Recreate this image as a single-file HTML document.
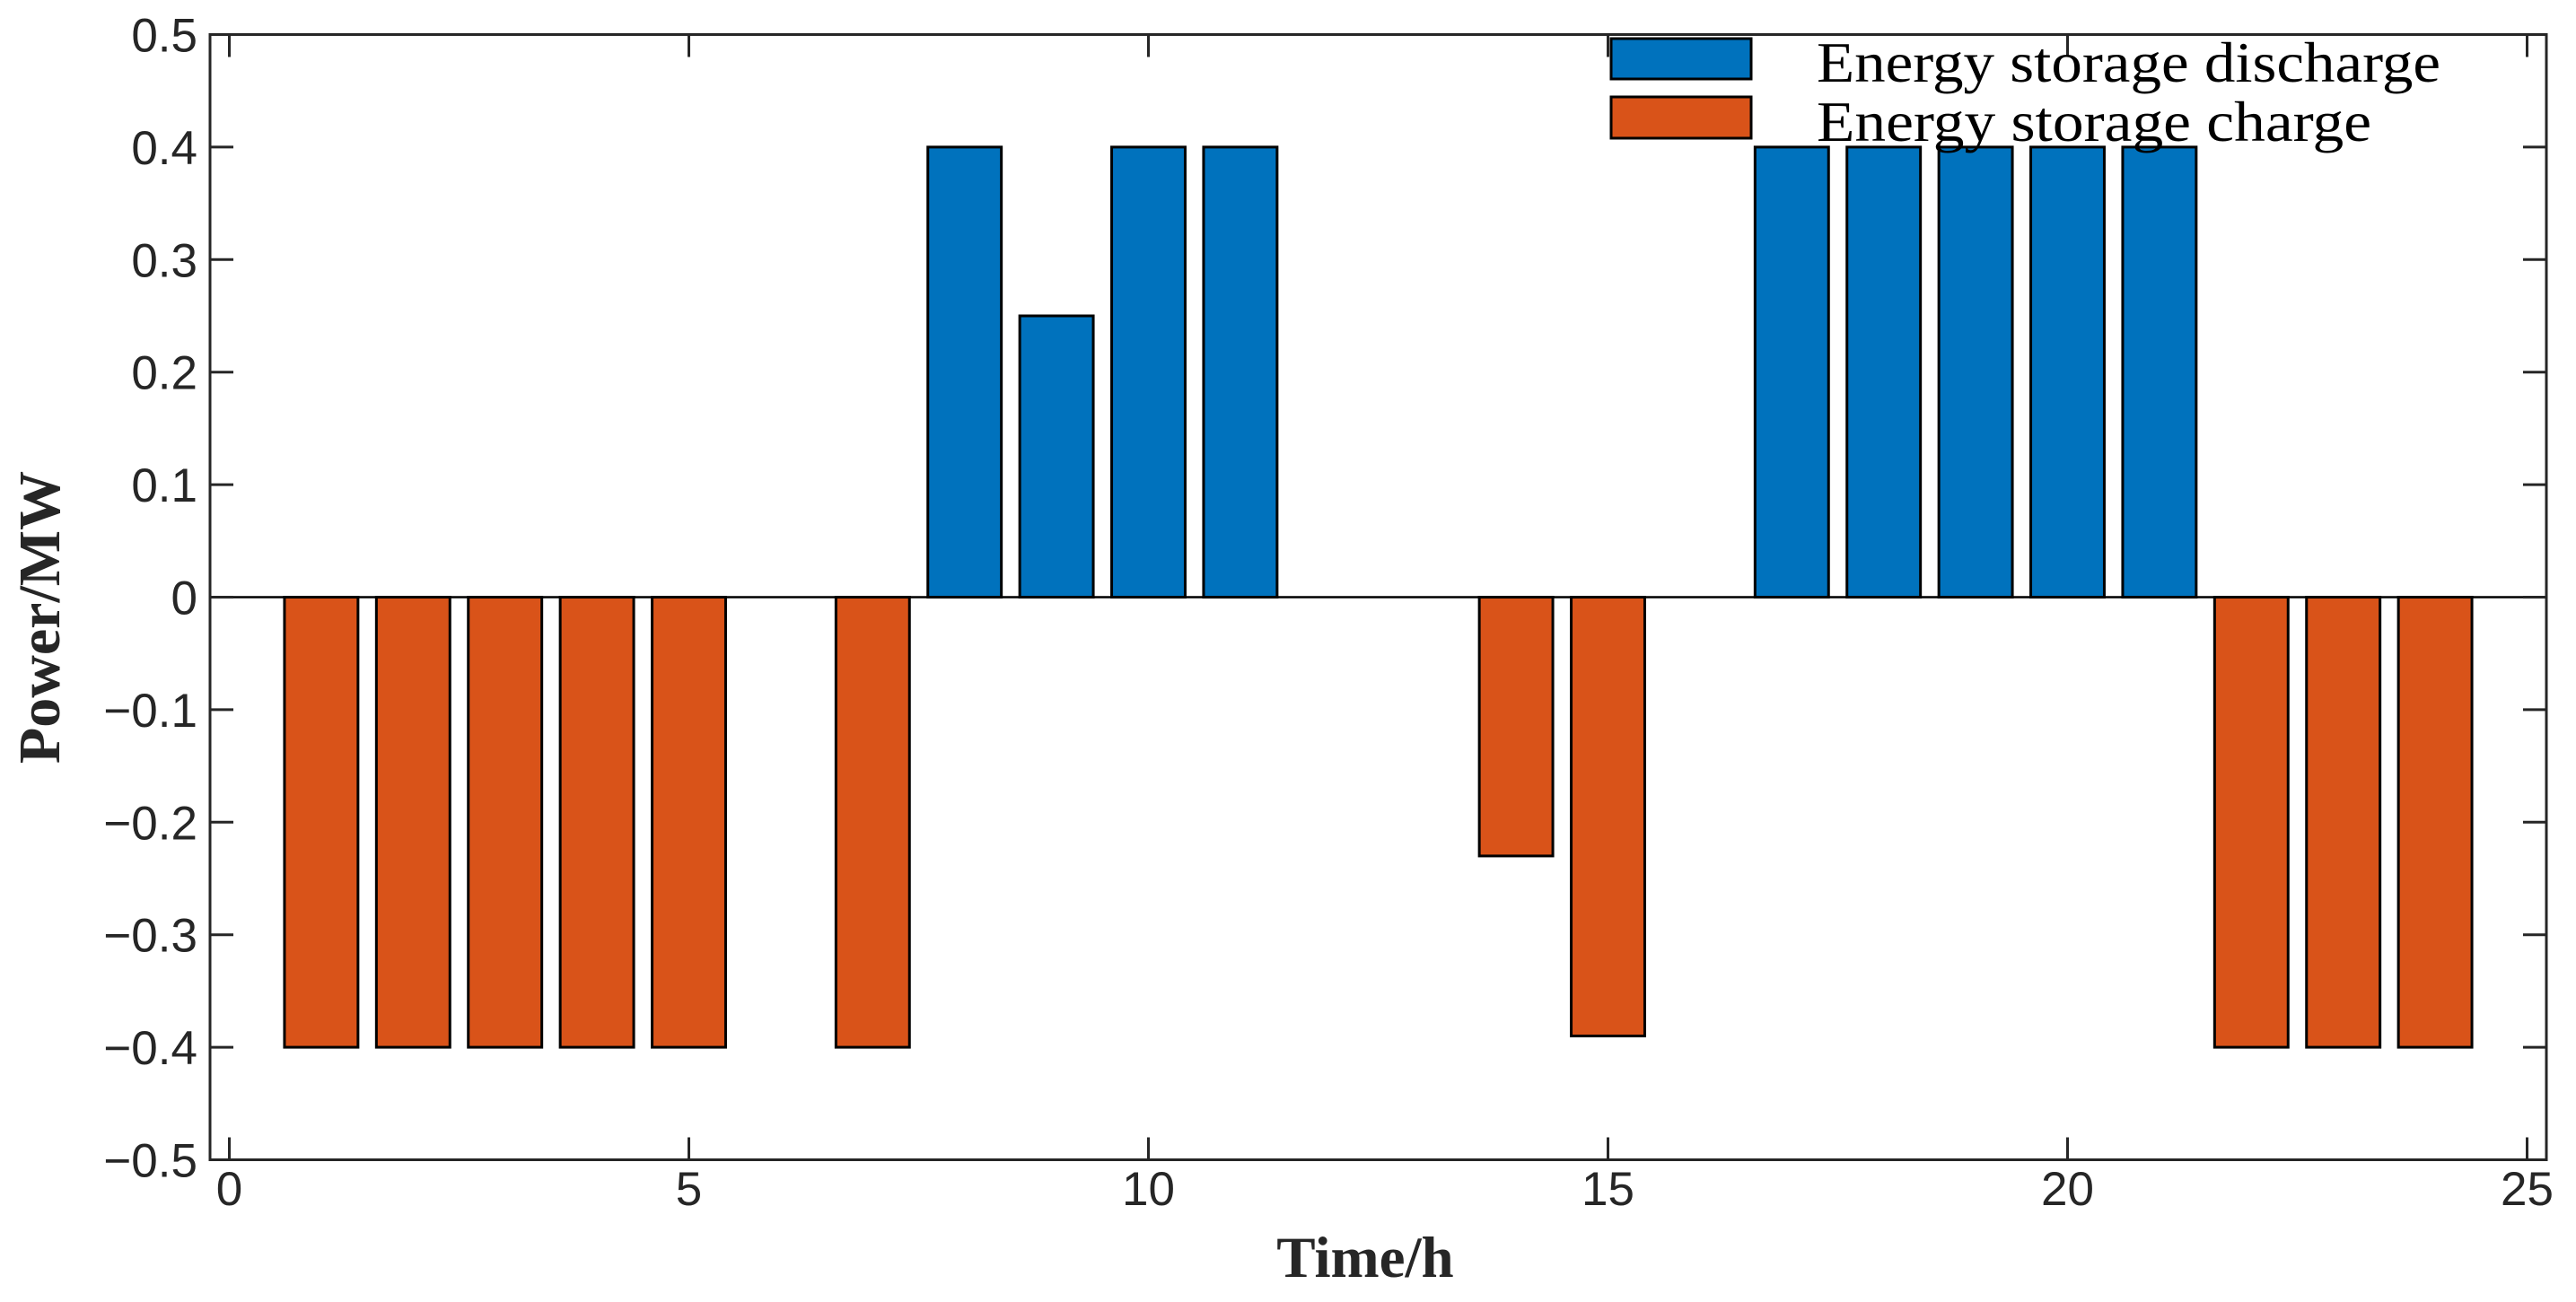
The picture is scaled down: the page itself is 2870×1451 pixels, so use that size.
<!DOCTYPE html>
<html><head><meta charset="utf-8"><style>
html,body{margin:0;padding:0;background:#fff;}
svg{display:block;}
</style></head><body>
<svg id="chart" width="2870" height="1451" viewBox="0 0 2870 1451" xmlns="http://www.w3.org/2000/svg">
<rect width="2870" height="1451" fill="#fff"/>
<g id="bars"></g>
<g id="axes"></g>
<g id="legend">
  <rect x="1795" y="43" width="156" height="45" fill="#0072BD" stroke="#000" stroke-width="3"/>
  <text x="2024" y="91" font-family="Liberation Serif, serif" font-size="64" fill="#000" textLength="695" lengthAdjust="spacingAndGlyphs">Energy storage discharge</text>
  <rect x="1795" y="108" width="156" height="46" fill="#D95319" stroke="#000" stroke-width="3"/>
  <text x="2024" y="157" font-family="Liberation Serif, serif" font-size="64" fill="#000" textLength="618" lengthAdjust="spacingAndGlyphs">Energy storage charge</text>
</g>
<text x="1521" y="1423" text-anchor="middle" font-family="Liberation Serif, serif" font-weight="bold" font-size="65" fill="#262626">Time/h</text>
<text transform="translate(66,688) rotate(-90)" text-anchor="middle" font-family="Liberation Serif, serif" font-weight="bold" font-size="66" fill="#262626">Power/MW</text>
</svg>
<script>
const hours = [1,2,3,4,5,6,7,8,9,10,11,12,13,14,15,16,17,18,19,20,21,22,23,24];
const discharge = [0,0,0,0,0,0,0,0.4,0.25,0.4,0.4,0,0,0,0,0,0.4,0.4,0.4,0.4,0.4,0,0,0];
const charge = [-0.4,-0.4,-0.4,-0.4,-0.4,0,-0.4,0,0,0,0,0,0,-0.23,-0.39,0,0,0,0,0,0,-0.4,-0.4,-0.4];
const xTicks = [0,5,10,15,20,25];
const yTicks = [0.5,0.4,0.3,0.2,0.1,0,-0.1,-0.2,-0.3,-0.4,-0.5];
const yTickLabels = ['0.5','0.4','0.3','0.2','0.1','0','\u22120.1','\u22120.2','\u22120.3','\u22120.4','\u22120.5'];

const NS='http://www.w3.org/2000/svg';
const L=234, R=2837, T=38.5, B=1292.5;
function xs(v){return 255.5 + v*102.4;}
function ys(v){return T + (0.5 - v)*(B-T);}
function mk(tag,attrs,parent){const e=document.createElementNS(NS,tag);for(const k in attrs)e.setAttribute(k,attrs[k]);parent.appendChild(e);return e;}
const bars=document.getElementById('bars'), axes=document.getElementById('axes');
const bw=0.8*102.4;
function drawSeries(vals,color,name){
  vals.forEach((v,i)=>{
    const x=xs(hours[i])-bw/2, y0=ys(0), y1=ys(v);
    const r=mk('rect',{x:x,y:Math.min(y0,y1),width:bw,height:Math.abs(y1-y0),fill:color,stroke:'#000','stroke-width':3},bars);
    
    
  });
}
drawSeries(discharge,'#0072BD','discharge');
drawSeries(charge,'#D95319','charge');
const base=mk('line',{x1:L,x2:R,y1:ys(0),y2:ys(0),stroke:'#000','stroke-width':2.5},bars);


const box=mk('rect',{x:L,y:T,width:R-L,height:B-T,fill:'none',stroke:'#262626','stroke-width':3},axes);


yTicks.forEach((v,i)=>{
  const y=ys(v);
  mk('line',{x1:L,x2:L+26,y1:y,y2:y,stroke:'#262626','stroke-width':3},axes);
  mk('line',{x1:R,x2:R-26,y1:y,y2:y,stroke:'#262626','stroke-width':3},axes);
  const t=mk('text',{x:220,y:y+19,'text-anchor':'end','font-family':'Liberation Sans, sans-serif','font-size':53,fill:'#262626'},axes);
  t.textContent=yTickLabels[i];
  
  
});
xTicks.forEach(v=>{
  const x=xs(v);
  mk('line',{x1:x,x2:x,y1:B,y2:B-25,stroke:'#262626','stroke-width':3},axes);
  mk('line',{x1:x,x2:x,y1:T,y2:T+25,stroke:'#262626','stroke-width':3},axes);
  const t=mk('text',{x:x,y:1343,'text-anchor':'middle','font-family':'Liberation Sans, sans-serif','font-size':53,fill:'#262626'},axes);
  t.textContent=String(v);
  
  
});
</script>
</body></html>
